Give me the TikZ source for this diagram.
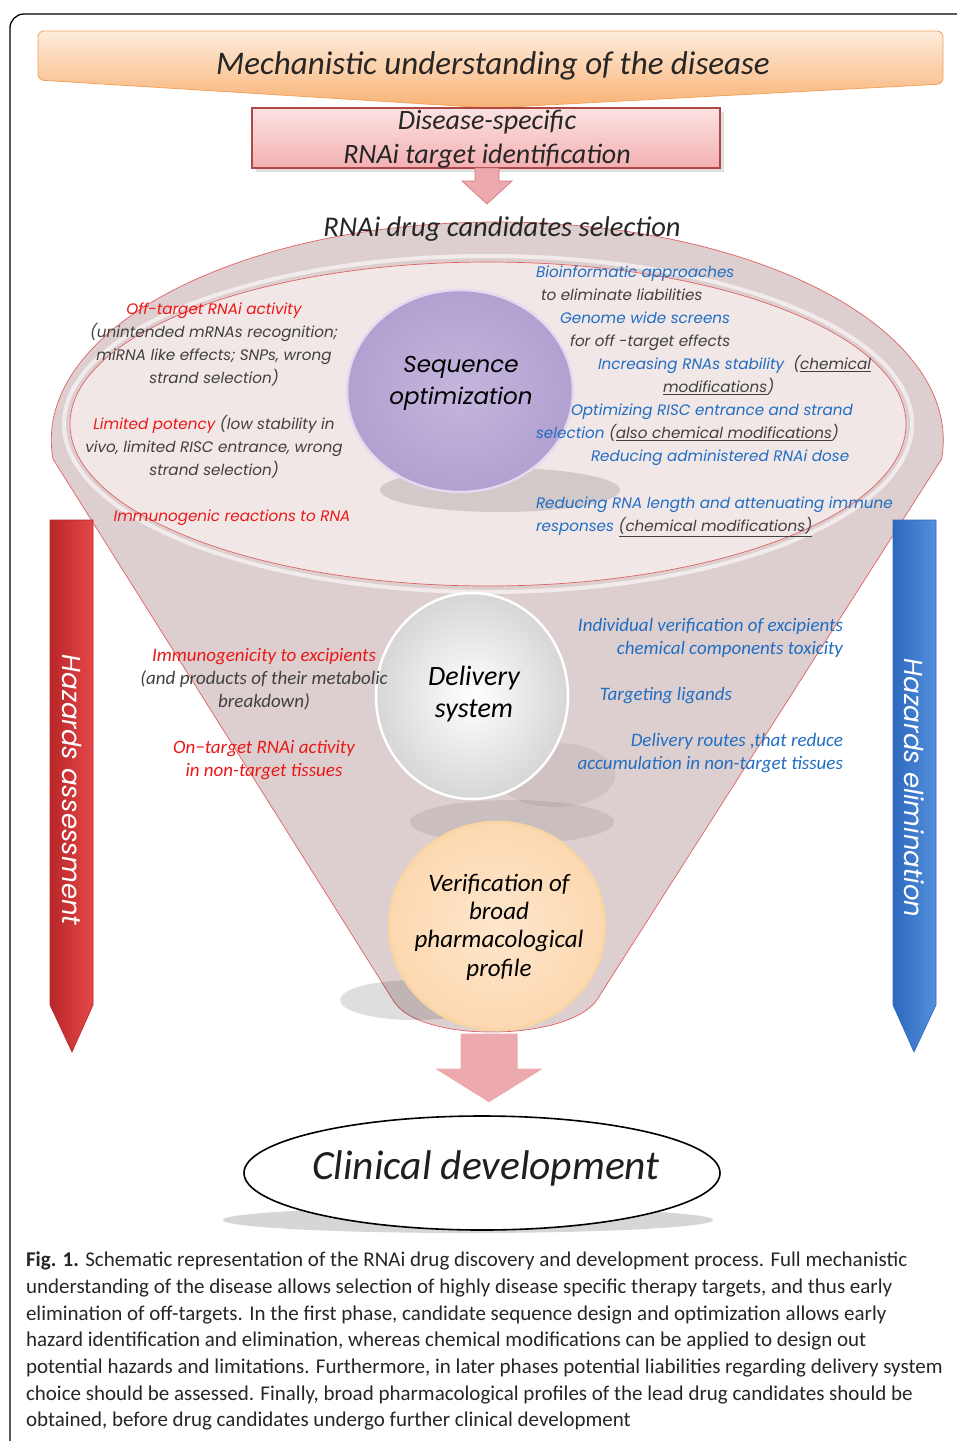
\documentclass[tikz,border=0pt]{standalone}
\usepackage{fontspec}
\setmainfont{Carlito}
\newfontfamily\gothic{Poppins}
\usetikzlibrary{shapes.geometric,calc}
\definecolor{redt}{RGB}{236,24,24}
\definecolor{bluet}{RGB}{32,110,196}
\definecolor{grayt}{RGB}{64,64,64}
\definecolor{funnelc}{RGB}{221,207,207}
\definecolor{funnelin}{RGB}{242,231,231}
\definecolor{edgered}{RGB}{226,96,96}
\definecolor{bannertop}{RGB}{254,236,220}
\definecolor{bannerbot}{RGB}{248,178,116}
\definecolor{bannerdraw}{RGB}{242,162,92}
\definecolor{boxtop}{RGB}{252,226,226}
\definecolor{boxbot}{RGB}{243,176,178}
\definecolor{boxdraw}{RGB}{176,72,72}
\definecolor{arrowpink}{RGB}{236,170,174}
\definecolor{arrowedge}{RGB}{214,120,126}
\definecolor{seqin}{RGB}{196,182,222}
\definecolor{seqout}{RGB}{178,160,208}
\definecolor{seqedge}{RGB}{226,218,240}
\definecolor{verin}{RGB}{254,230,204}
\definecolor{verout}{RGB}{252,216,176}
\definecolor{veredge}{RGB}{248,214,164}
\definecolor{redA}{RGB}{184,38,40}
\definecolor{redB}{RGB}{228,72,72}
\definecolor{blueA}{RGB}{44,104,190}
\definecolor{blueB}{RGB}{84,144,220}
\begin{document}
\begin{tikzpicture}[x=1pt,y=-1pt,
  every node/.style={inner sep=0pt,outer sep=0pt},
  gs/.style={font=\gothic\itshape\fontsize{15.2}{18}\selectfont, text height=11pt, text depth=4pt},
  cs/.style={font=\itshape\fontsize{19}{22}\selectfont, text height=13pt, text depth=4pt},
  shadowblob/.style={fill=black, opacity=0.13},
]
\useasboundingbox (0,0) rectangle (957,1441);
\clip (0,0) rectangle (957,1441);
\fill[white] (0,0) rectangle (957,1441);
% frame
\draw[line width=1.3pt, rounded corners=14pt] (10,1500) -- (10,14) -- (1000,14);

% banner
\path[top color=bannertop, bottom color=bannerbot, draw=bannerdraw, line width=0.8pt, rounded corners=6pt]
  (38,80) -- (38,31) -- (943,31) -- (943,84) -- (490,108) -- cycle;
\node[font=\itshape\fontsize{33}{36}\selectfont, text=black!85] (mech) at (493,66) {Mechanistic understanding of the disease};

% target box
\fill[black, opacity=0.12] (256,112) rectangle (724,172);
\node[draw=boxdraw, line width=1.2pt, top color=boxtop, bottom color=boxbot,
  minimum width=468pt, minimum height=60pt, anchor=north west] (targetbox) at (252,108) {};
\node[font=\itshape\fontsize{28}{34}\selectfont, align=center, text=black!85] (target) at (487,139) {Disease-specific\\RNAi target identification};

% small arrow
\path[fill=arrowpink, draw=arrowedge, line width=0.7pt]
  ($(targetbox.south)+(-11,0)$) -- ($(targetbox.south)+(13,0)$) -- ($(targetbox.south)+(13,13)$)
  -- ($(targetbox.south)+(26,13)$) -- ($(targetbox.south)+(1,36)$) -- ($(targetbox.south)+(-24,13)$)
  -- ($(targetbox.south)+(-11,13)$) -- cycle;

% funnel
\path[fill=funnelc, draw=edgered, line width=0.7pt]
  (53,459) arc[start angle=175, end angle=365, x radius=446, y radius=218]
  -- (600,995) .. controls (578,1042) and (418,1045) .. (393,1000) -- cycle;
\draw[white, line width=4pt, opacity=0.6] (488,424) ellipse[x radius=424, y radius=168];
\fill[funnelin] (488,424) ellipse[x radius=418, y radius=162];
\draw[edgered, line width=0.7pt] (488,424) ellipse[x radius=418, y radius=162];

\node[font=\itshape\fontsize{28.5}{30}\selectfont, text=black!85] (sel) at (502,229) {RNAi drug candidates selection};

% sequence optimization
\fill[shadowblob] (500,490) ellipse[x radius=120, y radius=22];
\node[ellipse, minimum width=226pt, minimum height=202pt, draw=seqedge, line width=2.5pt,
  inner color=seqin, outer color=seqout] (seq) at (460,391) {};
\node[font=\gothic\itshape\fontsize{23}{32}\selectfont, align=center] (seqt) at (461,383) {Sequence\\optimization};

% left texts, top
\node[gs, text=redt] (l1) at (214,311) {Off-target RNAi activity};
\node[gs, text=grayt] (l2) at (214,334) {(unintended mRNAs recognition;};
\node[gs, text=grayt] (l3) at (214,357) {miRNA like effects; SNPs, wrong};
\node[gs, text=grayt] (l4) at (214,380) {strand selection)};
\node[gs, text=grayt] (l5) at (214,426) {\textcolor{redt}{Limited potency} (low stability in};
\node[gs, text=grayt] (l6) at (214,449) {vivo, limited RISC entrance, wrong};
\node[gs, text=grayt] (l7) at (214,472) {strand selection)};
\node[gs, text=redt] (l8) at (232,518) {Immunogenic reactions to RNA};

% right texts, top
\node[gs, text=bluet, anchor=west] (r1) at (536,274) {Bioinformatic approaches};
\node[gs, text=grayt, anchor=west] (r2) at (541,297) {to eliminate liabilities};
\node[gs, text=bluet, anchor=west] (r3) at (560,320) {Genome wide screens};
\node[gs, text=grayt, anchor=west] (r4) at (570,343) {for off -target effects};
\node[gs, text=bluet, anchor=west] (r5) at (598,366) {Increasing RNAs stability\ \ \textcolor{grayt}{(\underline{chemical}}};
\node[gs, text=grayt, anchor=west] (r6) at (663,389) {\underline{modifications})};
\node[gs, text=bluet, anchor=west] (r7) at (571,412) {Optimizing RISC entrance and strand};
\node[gs, text=bluet, anchor=west] (r8) at (536,435) {selection \textcolor{grayt}{(\underline{also chemical modifications})}};
\node[gs, text=bluet, anchor=west] (r9) at (591,458) {Reducing administered RNAi dose};
\node[gs, text=bluet, anchor=west] (r10) at (536,505) {Reducing RNA length and attenuating immune};
\node[gs, text=bluet, anchor=west] (r11) at (536,528) {responses \textcolor{grayt}{\underline{(chemical modifications)}}};

% delivery system
\fill[shadowblob, opacity=0.08] (512,822) ellipse[x radius=102, y radius=22];
\fill[shadowblob, opacity=0.06] (555,775) ellipse[x radius=60, y radius=32];
\node[ellipse, minimum width=192pt, minimum height=206pt, draw=white, line width=2.5pt,
  inner color=white, outer color=black!16] (deliv) at (472,696) {};
\node[font=\itshape\fontsize{28}{32}\selectfont, align=center] (delivt) at (474,694) {Delivery\\system};

\node[cs, text=redt] (d1) at (264,657) {Immunogenicity to excipients};
\node[cs, text=grayt] (d2) at (264,680) {(and products of their metabolic};
\node[cs, text=grayt] (d3) at (264,703) {breakdown)};
\node[cs, text=redt] (d4) at (264,749) {On−target RNAi activity};
\node[cs, text=redt] (d5) at (264,772) {in non-target tissues};

\node[cs, text=bluet, anchor=east] (e1) at (843,627) {Individual verification of excipients};
\node[cs, text=bluet, anchor=east] (e2) at (843,650) {chemical components toxicity};
\node[cs, text=bluet] (e3) at (666,696) {Targeting ligands};
\node[cs, text=bluet, anchor=east] (e4) at (843,742) {Delivery routes ,that reduce};
\node[cs, text=bluet, anchor=east] (e5) at (843,765) {accumulation in non-target tissues};

% verification
\fill[shadowblob] (415,1000) ellipse[x radius=75, y radius=20];
\node[ellipse, minimum width=216pt, minimum height=208pt, draw=veredge, line width=2.5pt,
  inner color=verin, outer color=verout] (verif) at (497,926) {};
\node[font=\itshape\fontsize{25}{28.3}\selectfont, align=center] (veriftxt) at (499,927) {Verification of\\broad\\pharmacological\\profile};

% bottom arrow
\path[fill=arrowpink, draw=white, line width=1pt]
  (460,1033) -- (518,1033) -- (518,1068) -- (545,1068) -- (489,1103) -- (433,1068) -- (460,1068) -- cycle;

% clinical development
\fill[black, opacity=0.16] (468,1220) ellipse[x radius=245, y radius=13];
\node[ellipse, draw=black, line width=1.6pt, fill=white, minimum width=476pt, minimum height=114pt] (clin) at (482,1173) {};
\node[font=\itshape\fontsize{41.5}{44}\selectfont, text=black!88] (clint) at (486,1168) {Clinical development};

% hazard arrows
\path[left color=redA, right color=redB, draw=redA, line width=0.6pt]
  (50,520) -- (93,520) -- (93,1005) -- (72,1052) -- (50,1005) -- cycle;
\node[rotate=-90, font=\gothic\itshape\fontsize{26}{30}\selectfont, text=white] (hazA) at (72,790) {Hazards assessment};
\path[left color=blueA, right color=blueB, draw=blueA, line width=0.6pt]
  (893,520) -- (936,520) -- (936,1005) -- (914,1052) -- (893,1005) -- cycle;
\node[rotate=-90, font=\gothic\itshape\fontsize{26}{30}\selectfont, text=white] (hazE) at (914,788) {Hazards elimination};

% caption
\node[anchor=north west, align=left, font=\fontsize{21}{26.7}\selectfont, text=black!85] (cap) at (26,1252)
{\textbf{Fig. 1.} Schematic representation of the RNAi drug discovery and development process. Full mechanistic\\
understanding of the disease allows selection of highly disease specific therapy targets, and thus early\\
elimination of off-targets. In the first phase, candidate sequence design and optimization allows early\\
hazard identification and elimination, whereas chemical modifications can be applied to design out\\
potential hazards and limitations. Furthermore, in later phases potential liabilities regarding delivery system\\
choice should be assessed. Finally, broad pharmacological profiles of the lead drug candidates should be\\
obtained, before drug candidates undergo further clinical development};
\end{tikzpicture}
\end{document}
